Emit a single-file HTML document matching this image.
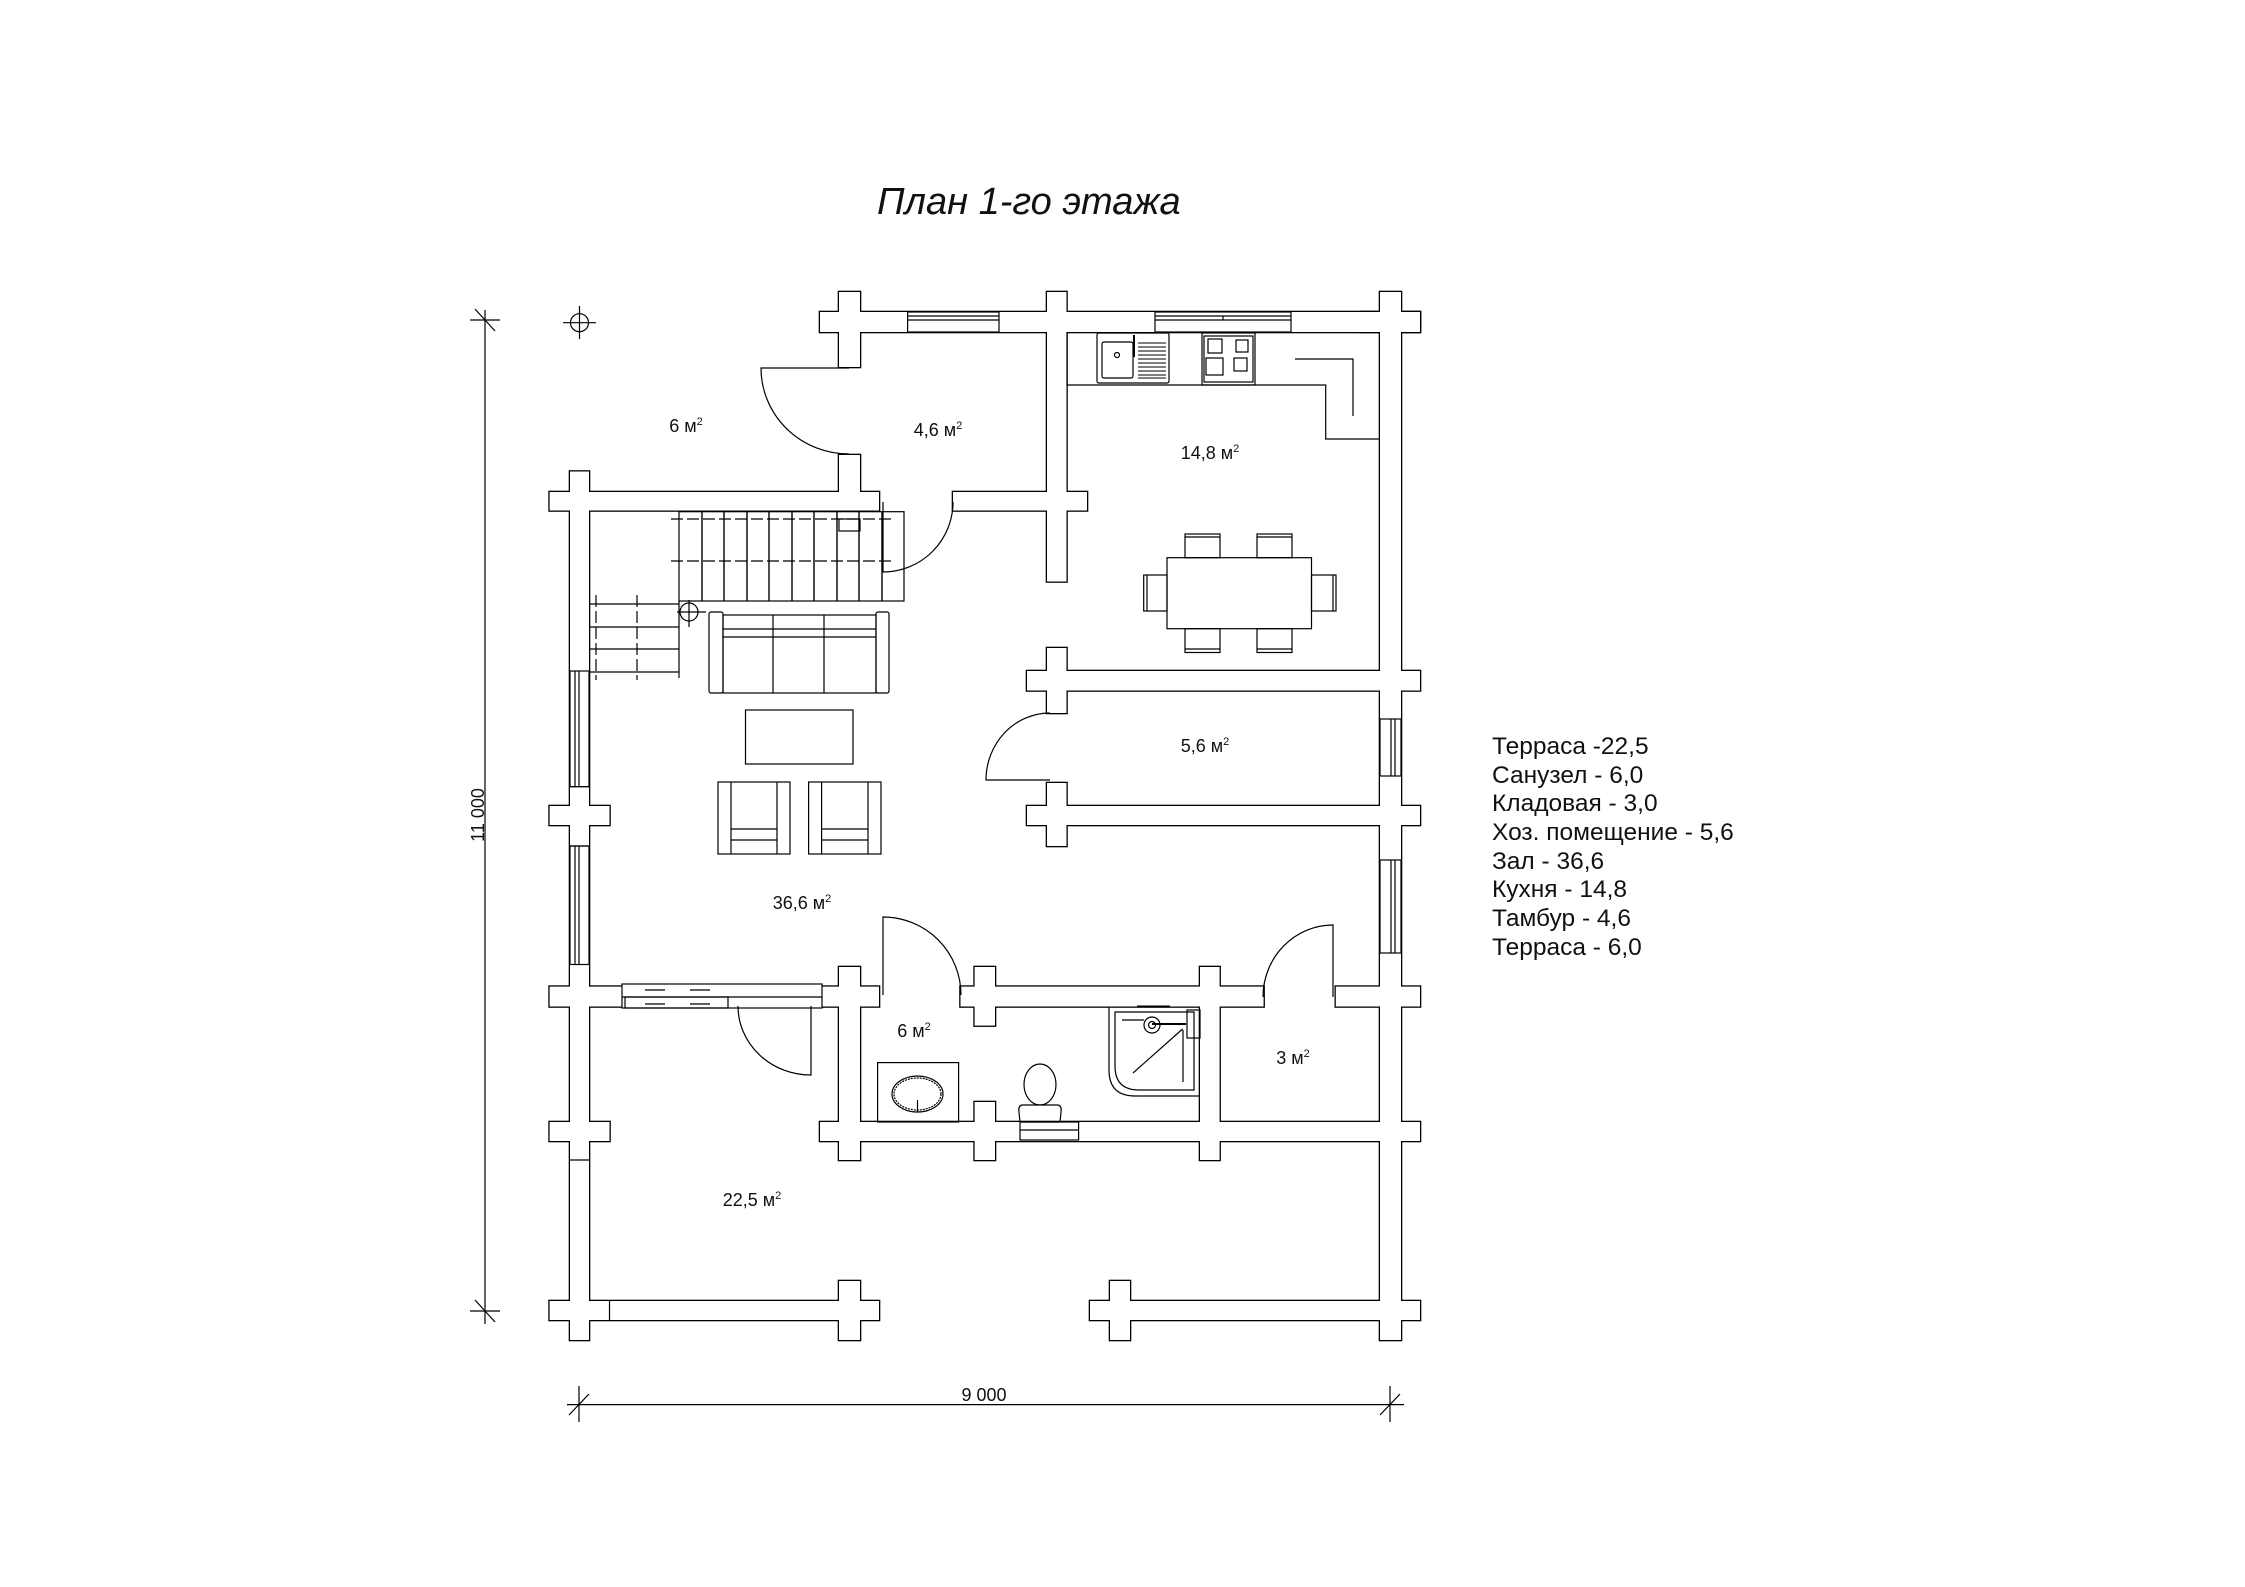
<!DOCTYPE html>
<html><head><meta charset="utf-8"><style>
html,body{margin:0;padding:0;background:#fff}
svg{display:block}
text{font-family:"Liberation Sans",Arial,sans-serif;fill:#111}
</style></head><body>
<svg width="2245" height="1587" viewBox="0 0 2245 1587" xmlns="http://www.w3.org/2000/svg">
<defs>
<g id="w">
<rect x="820" y="312" width="600" height="20"/>
<rect x="839" y="292" width="21" height="75"/>
<rect x="1047" y="292" width="19.5" height="289.5"/>
<rect x="1380" y="292" width="21" height="1048"/>
<rect x="1361" y="312" width="59" height="20"/>
<rect x="839" y="455" width="21" height="55.5"/>
<rect x="549.6" y="492" width="329.4" height="18.5"/>
<rect x="953" y="492" width="134" height="18.5"/>
<rect x="570" y="471.5" width="19" height="868.5"/>
<rect x="1027" y="671" width="393" height="19.5"/>
<rect x="1047" y="648" width="19.5" height="65"/>
<rect x="1027" y="806" width="393" height="19"/>
<rect x="1047" y="783" width="19.5" height="63"/>
<rect x="549.6" y="806" width="59.9" height="19"/>
<rect x="549.6" y="986.6" width="329.4" height="19.9"/>
<rect x="960.5" y="986.6" width="303.1" height="19.9"/>
<rect x="1335.8" y="986.6" width="84.2" height="19.9"/>
<rect x="839" y="967" width="21" height="193"/>
<rect x="974.6" y="967" width="20.4" height="58.6"/>
<rect x="974.6" y="1102" width="20.4" height="58"/>
<rect x="1200" y="967" width="19.6" height="193"/>
<rect x="820" y="1122" width="600" height="19"/>
<rect x="549.6" y="1122" width="59.9" height="19"/>
<rect x="549.6" y="1301" width="329.4" height="19"/>
<rect x="1090" y="1301" width="330" height="19"/>
<rect x="839" y="1281" width="21" height="59"/>
<rect x="1110" y="1281" width="20" height="59"/>
</g>
</defs>
<use href="#w" fill="none" stroke="#000" stroke-width="2.6"/>
<use href="#w" fill="#fff" stroke="none"/>

<g fill="none" stroke="#000" stroke-width="1.2">
<line x1="609.5" y1="1301" x2="609.5" y2="1320"/>
<line x1="570" y1="1160" x2="589" y2="1160"/>
<line x1="570" y1="786.7" x2="589" y2="786.7"/>
<line x1="570" y1="846" x2="589" y2="846"/>
<rect x="907.6" y="312" width="91.4" height="20"/><line x1="907.6" y1="316" x2="999" y2="316"/><line x1="907.6" y1="320" x2="999" y2="320"/>
<rect x="1155" y="312" width="136" height="20"/><line x1="1155" y1="316" x2="1291" y2="316"/><line x1="1155" y1="320" x2="1291" y2="320"/><line x1="1223" y1="316" x2="1223" y2="320"/>
<rect x="570" y="671" width="19" height="115.7"/><line x1="575" y1="671" x2="575" y2="786.7"/><line x1="579" y1="671" x2="579" y2="786.7"/>
<rect x="570" y="846" width="19" height="118.5"/><line x1="575" y1="846" x2="575" y2="964.5"/><line x1="579" y1="846" x2="579" y2="964.5"/>
<rect x="1380" y="719" width="21" height="57"/><line x1="1391" y1="719" x2="1391" y2="776"/><line x1="1395" y1="719" x2="1395" y2="776"/>
<rect x="1380" y="860" width="21" height="93"/><line x1="1391" y1="860" x2="1391" y2="953"/><line x1="1395" y1="860" x2="1395" y2="953"/>
<rect x="622" y="984" width="200" height="24" fill="#fff"/>
<line x1="622" y1="997" x2="822" y2="997"/>
<rect x="625" y="997" width="103" height="11"/>
<line x1="645" y1="990" x2="665" y2="990"/><line x1="690" y1="990" x2="710" y2="990"/>
<line x1="645" y1="1004" x2="665" y2="1004"/><line x1="690" y1="1004" x2="710" y2="1004"/>
<path d="M849,368 L761,368 A88,86 0 0 0 849,454"/>
<path d="M883,502 L883,572 A70,70 0 0 0 953,502"/>
<path d="M1050,780 L986,780 A64,67 0 0 1 1050,713"/>
<path d="M883,995 L883,917 A78,78 0 0 1 961,995"/>
<path d="M1333,997 L1333,925 A70,72 0 0 0 1263,997"/>
<path d="M811,1006 L811,1075 A73,69 0 0 1 738,1006"/>
<rect x="679" y="511.7" width="225" height="89.3"/>
<g stroke-width="1.4">
<line x1="702" y1="512" x2="702" y2="601"/><line x1="724" y1="512" x2="724" y2="601"/><line x1="747" y1="512" x2="747" y2="601"/><line x1="769" y1="512" x2="769" y2="601"/><line x1="792" y1="512" x2="792" y2="601"/><line x1="814" y1="512" x2="814" y2="601"/><line x1="837" y1="512" x2="837" y2="601"/><line x1="859" y1="512" x2="859" y2="601"/><line x1="882" y1="512" x2="882" y2="601"/>
</g>
<line x1="671" y1="519" x2="893" y2="519" stroke-dasharray="12,4"/>
<line x1="671" y1="561" x2="893" y2="561" stroke-dasharray="12,4"/>
<rect x="839" y="519" width="21" height="12"/>
<line x1="589" y1="604" x2="679" y2="604"/><line x1="589" y1="627" x2="679" y2="627"/><line x1="589" y1="649" x2="679" y2="649"/><line x1="589" y1="672" x2="679" y2="672"/>
<line x1="679" y1="601" x2="679" y2="678"/>
<line x1="596" y1="595" x2="596" y2="680" stroke-dasharray="12,4"/>
<line x1="637" y1="595" x2="637" y2="680" stroke-dasharray="12,4"/>
<circle cx="689" cy="612" r="9"/>
<line x1="677" y1="612" x2="706" y2="612"/><line x1="689" y1="600" x2="689" y2="627"/>
<rect x="709" y="612" width="14" height="81" rx="2"/>
<rect x="876" y="612" width="13" height="81" rx="2"/>
<rect x="723" y="615" width="153" height="78"/>
<line x1="723" y1="629" x2="876" y2="629"/><line x1="723" y1="637" x2="876" y2="637"/>
<line x1="773" y1="615" x2="773" y2="693"/><line x1="824" y1="615" x2="824" y2="693"/>
<rect x="745.5" y="710" width="107.5" height="54"/>
<rect x="718" y="782" width="72" height="72"/><line x1="731" y1="782" x2="731" y2="854"/><line x1="777" y1="782" x2="777" y2="854"/><line x1="731" y1="829" x2="777" y2="829"/><line x1="731" y1="840" x2="777" y2="840"/>
<rect x="808.6" y="782" width="72.4" height="72"/><line x1="821.6" y1="782" x2="821.6" y2="854"/><line x1="868" y1="782" x2="868" y2="854"/><line x1="821.6" y1="829" x2="868" y2="829"/><line x1="821.6" y1="840" x2="868" y2="840"/>
<rect x="1167" y="557.7" width="144.5" height="71"/>
<rect x="1185" y="534" width="35" height="23.7"/><line x1="1185" y1="537" x2="1220" y2="537"/>
<rect x="1257" y="534" width="35" height="23.7"/><line x1="1257" y1="537" x2="1292" y2="537"/>
<rect x="1185" y="628.7" width="35" height="23.8"/><line x1="1185" y1="649" x2="1220" y2="649"/>
<rect x="1257" y="628.7" width="35" height="23.8"/><line x1="1257" y1="649" x2="1292" y2="649"/>
<rect x="1143.7" y="575" width="23.3" height="36"/><line x1="1147" y1="575" x2="1147" y2="611"/>
<rect x="1311.5" y="575" width="24.5" height="36"/><line x1="1333" y1="575" x2="1333" y2="611"/>
<polyline points="1067,332 1067,385 1325.7,385 1325.7,439 1380,439"/>
<rect x="1097" y="333" width="72" height="50" rx="2"/>
<rect x="1102" y="342" width="31" height="36" rx="2"/>
<circle cx="1117" cy="355" r="2.5"/>
<line x1="1134" y1="335" x2="1134" y2="357" stroke-width="2"/>
<g stroke-width="1">
<line x1="1138" y1="343" x2="1166" y2="343"/><line x1="1138" y1="347" x2="1166" y2="347"/><line x1="1138" y1="351" x2="1166" y2="351"/><line x1="1138" y1="355" x2="1166" y2="355"/><line x1="1138" y1="359" x2="1166" y2="359"/><line x1="1138" y1="363" x2="1166" y2="363"/><line x1="1138" y1="367" x2="1166" y2="367"/><line x1="1138" y1="371" x2="1166" y2="371"/><line x1="1138" y1="375" x2="1166" y2="375"/><line x1="1138" y1="378" x2="1166" y2="378"/>
</g>
<rect x="1202" y="333" width="53" height="52"/>
<rect x="1204" y="336" width="49" height="46"/>
<rect x="1208" y="339" width="14" height="14"/><rect x="1236" y="340" width="12" height="12"/>
<rect x="1206" y="358" width="17" height="17"/><rect x="1234" y="358" width="13" height="13"/>
<polyline points="1295,359 1353,359 1353,416"/>
<rect x="877.6" y="1062.6" width="81" height="59.4"/>
<ellipse cx="917.5" cy="1094" rx="25.5" ry="18"/>
<ellipse cx="917.5" cy="1094" rx="23.5" ry="16" stroke-dasharray="2,1"/>
<line x1="917.5" y1="1100" x2="917.5" y2="1112"/>
<ellipse cx="1040" cy="1084.5" rx="16" ry="20.5"/>
<path d="M1022,1105 L1058,1105 Q1062,1106 1061,1112 L1060,1122 L1020,1122 L1019,1112 Q1018,1106 1022,1105 Z"/>
<rect x="1020" y="1122" width="58.6" height="18"/><line x1="1020" y1="1130" x2="1078.6" y2="1130"/>
<path d="M1109,1006.5 L1109,1070 Q1109,1096 1135,1096 L1200,1096"/>
<path d="M1115,1012 L1115,1066 Q1115,1090 1139,1090 L1194,1090 L1194,1012 Z"/>
<circle cx="1152" cy="1025" r="8"/><circle cx="1152" cy="1025" r="3.5"/>
<line x1="1122" y1="1020" x2="1144" y2="1020"/>
<line x1="1152" y1="1024" x2="1186" y2="1024" stroke-width="2"/>
<rect x="1187" y="1010" width="13" height="28"/>
<line x1="1133" y1="1073" x2="1182.6" y2="1029"/>
<line x1="1183" y1="1030" x2="1183" y2="1082"/>
<line x1="1137" y1="1006.5" x2="1170" y2="1006.5" stroke-width="2"/>
<line x1="485" y1="310" x2="485" y2="1324"/>
<line x1="470" y1="320" x2="500" y2="320"/><line x1="475" y1="309" x2="495" y2="331"/>
<line x1="470" y1="1311" x2="500" y2="1311"/><line x1="475" y1="1300" x2="495" y2="1322"/>
<line x1="567" y1="1404.6" x2="1404" y2="1404.6"/>
<line x1="579" y1="1386" x2="579" y2="1422"/><line x1="569" y1="1415" x2="589" y2="1394"/>
<line x1="1390" y1="1386" x2="1390" y2="1422"/><line x1="1380" y1="1415" x2="1400" y2="1394"/>
<circle cx="579.5" cy="322.7" r="9"/>
<line x1="563" y1="322.7" x2="596" y2="322.7"/><line x1="579.5" y1="306" x2="579.5" y2="339"/>
</g>

<g font-size="18" text-anchor="middle">
<text x="686" y="432">6 м<tspan font-size="11" dy="-7">2</tspan></text>
<text x="938" y="436">4,6 м<tspan font-size="11" dy="-7">2</tspan></text>
<text x="1210" y="459">14,8 м<tspan font-size="11" dy="-7">2</tspan></text>
<text x="1205" y="752">5,6 м<tspan font-size="11" dy="-7">2</tspan></text>
<text x="802" y="909">36,6 м<tspan font-size="11" dy="-7">2</tspan></text>
<text x="914" y="1037">6 м<tspan font-size="11" dy="-7">2</tspan></text>
<text x="1293" y="1064">3 м<tspan font-size="11" dy="-7">2</tspan></text>
<text x="752" y="1206">22,5 м<tspan font-size="11" dy="-7">2</tspan></text>
<text x="984" y="1401">9 000</text>
<text x="0" y="0" transform="translate(484,815) rotate(-90)">11 000</text>
</g>
<text x="877" y="214" font-size="38" font-style="italic">План 1-го этажа</text>
<g font-size="24.5">
<text x="1492" y="754">Терраса -22,5</text>
<text x="1492" y="783">Санузел - 6,0</text>
<text x="1492" y="811">Кладовая - 3,0</text>
<text x="1492" y="840">Хоз. помещение - 5,6</text>
<text x="1492" y="869">Зал - 36,6</text>
<text x="1492" y="897">Кухня - 14,8</text>
<text x="1492" y="926">Тамбур - 4,6</text>
<text x="1492" y="955">Терраса - 6,0</text>
</g>
</svg>
</body></html>
